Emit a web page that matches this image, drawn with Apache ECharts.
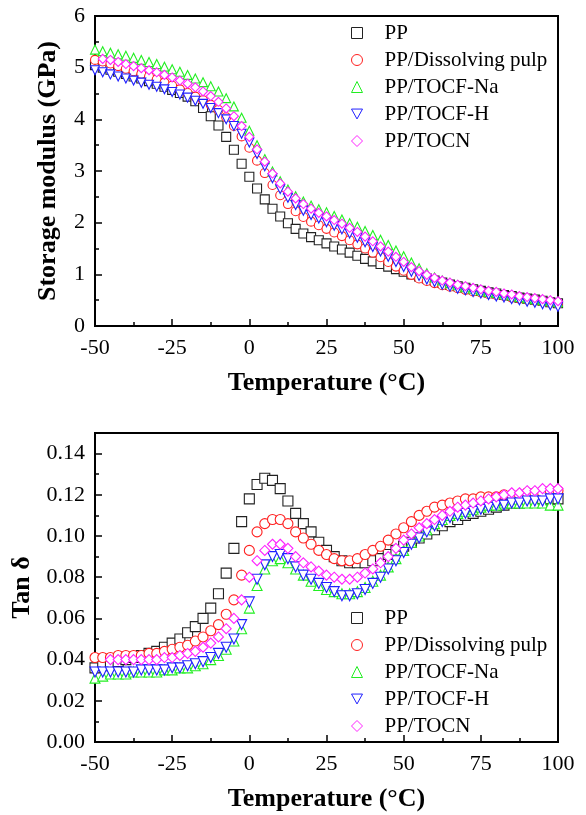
<!DOCTYPE html>
<html>
<head>
<meta charset="utf-8">
<script src="https://cdn.jsdelivr.net/npm/echarts@6/dist/echarts.min.js"></script>
<style>
  html, body { margin: 0; padding: 0; background: #fff; }
  #chart { width: 586px; height: 815px; }
</style>
</head>
<body>
<div id="chart"></div>
<script>
// temperature (°C)
const temps = [
  -50, -47.5, -45, -42.5, -40, -37.5, -35, -32.5, -30, -27.5,
  -25, -22.5, -20, -17.5, -15, -12.5, -10, -7.5, -5, -2.5,
  0, 2.5, 5, 7.5, 10, 12.5, 15, 17.5, 20, 22.5,
  25, 27.5, 30, 32.5, 35, 37.5, 40, 42.5, 45, 47.5,
  50, 52.5, 55, 57.5, 60, 62.5, 65, 67.5, 70, 72.5,
  75, 77.5, 80, 82.5, 85, 87.5, 90, 92.5, 95, 97.5,
  100
];

const names = ['PP', 'PP/Dissolving pulp', 'PP/TOCF-Na', 'PP/TOCF-H', 'PP/TOCN'];
const colors = ['#222222', '#ff2020', '#22ee22', '#2020ff', '#ff22ff'];

// storage modulus (GPa)
const modPP = [
  5.05, 5.00, 4.96, 4.92, 4.88, 4.83, 4.79, 4.74, 4.69, 4.63,
  4.57, 4.51, 4.44, 4.35, 4.22, 4.06, 3.88, 3.66, 3.41, 3.14,
  2.89, 2.66, 2.45, 2.27, 2.12, 1.99, 1.88, 1.79, 1.72, 1.66,
  1.60, 1.54, 1.48, 1.42, 1.36, 1.30, 1.25, 1.20, 1.15, 1.10,
  1.05, 1.00, 0.96, 0.92, 0.88, 0.84, 0.80, 0.77, 0.74, 0.71,
  0.68, 0.65, 0.63, 0.60, 0.58, 0.55, 0.53, 0.51, 0.49, 0.46,
  0.44
];
const modPulp = [
  5.15, 5.12, 5.08, 5.03, 4.98, 4.93, 4.88, 4.83, 4.77, 4.71,
  4.65, 4.58, 4.51, 4.44, 4.37, 4.28, 4.18, 4.04, 3.87, 3.67,
  3.45, 3.20, 2.96, 2.73, 2.53, 2.36, 2.22, 2.11, 2.02, 1.95,
  1.88, 1.81, 1.74, 1.66, 1.58, 1.50, 1.42, 1.33, 1.24, 1.15,
  1.07, 0.99, 0.92, 0.87, 0.83, 0.79, 0.76, 0.73, 0.70, 0.67,
  0.65, 0.62, 0.60, 0.58, 0.55, 0.53, 0.51, 0.49, 0.47, 0.45,
  0.43
];
const modNa = [
  5.35, 5.32, 5.29, 5.26, 5.23, 5.19, 5.15, 5.11, 5.07, 5.02,
  4.97, 4.92, 4.86, 4.79, 4.72, 4.64, 4.54, 4.41, 4.25, 4.03,
  3.78, 3.50, 3.23, 2.99, 2.80, 2.64, 2.51, 2.41, 2.33, 2.26,
  2.20, 2.13, 2.06, 1.99, 1.92, 1.84, 1.76, 1.67, 1.57, 1.46,
  1.35, 1.23, 1.12, 1.02, 0.94, 0.88, 0.83, 0.79, 0.75, 0.72,
  0.69, 0.66, 0.64, 0.61, 0.59, 0.56, 0.54, 0.52, 0.50, 0.48,
  0.46
];
const modH = [
  4.95, 4.91, 4.87, 4.83, 4.79, 4.75, 4.71, 4.67, 4.63, 4.58,
  4.53, 4.48, 4.42, 4.36, 4.30, 4.22, 4.12, 4.00, 3.87, 3.72,
  3.55, 3.33, 3.09, 2.86, 2.65, 2.48, 2.34, 2.23, 2.15, 2.08,
  2.01, 1.94, 1.87, 1.79, 1.71, 1.62, 1.53, 1.44, 1.34, 1.24,
  1.14, 1.05, 0.97, 0.90, 0.85, 0.80, 0.76, 0.72, 0.69, 0.66,
  0.63, 0.60, 0.57, 0.55, 0.52, 0.50, 0.47, 0.45, 0.42, 0.40,
  0.37
];
const modTOCN = [
  null, 5.17, 5.15, 5.11, 5.07, 5.03, 4.99, 4.95, 4.91, 4.86,
  4.81, 4.75, 4.69, 4.62, 4.54, 4.45, 4.34, 4.21, 4.06, 3.87,
  3.66, 3.42, 3.18, 2.95, 2.76, 2.60, 2.47, 2.36, 2.27, 2.19,
  2.12, 2.05, 1.98, 1.90, 1.82, 1.73, 1.64, 1.54, 1.44, 1.34,
  1.24, 1.14, 1.06, 0.99, 0.93, 0.88, 0.84, 0.80, 0.77, 0.74,
  0.71, 0.68, 0.66, 0.63, 0.61, 0.58, 0.56, 0.54, 0.52, 0.50,
  0.48
];

// tan delta
const tanPP = [
  0.036, 0.037, 0.038, 0.039, 0.040, 0.041, 0.042, 0.043, 0.044, 0.046,
  0.048, 0.050, 0.053, 0.056, 0.060, 0.065, 0.072, 0.082, 0.094, 0.107,
  0.118, 0.125, 0.128, 0.127, 0.123, 0.117, 0.111, 0.106, 0.102, 0.097,
  0.093, 0.090, 0.088, 0.087, 0.087, 0.087, 0.088, 0.089, 0.091, 0.093,
  0.095, 0.097, 0.099, 0.101, 0.103, 0.105, 0.107, 0.108, 0.110, 0.111,
  0.112, 0.113, 0.114, 0.115, 0.116, 0.116, 0.117, 0.117, 0.118, 0.118,
  0.118
];
const tanPulp = [
  0.041, 0.041, 0.041, 0.042, 0.042, 0.042, 0.042, 0.043, 0.043, 0.044,
  0.045, 0.046, 0.047, 0.049, 0.051, 0.054, 0.057, 0.062, 0.069, 0.081,
  0.093, 0.102, 0.106, 0.108, 0.108, 0.106, 0.102, 0.099, 0.096, 0.093,
  0.091, 0.089, 0.088, 0.088, 0.089, 0.091, 0.093, 0.095, 0.098, 0.101,
  0.104, 0.107, 0.110, 0.112, 0.114, 0.115, 0.116, 0.117, 0.118, 0.118,
  0.119, 0.119, 0.119, 0.120, 0.120, 0.120, 0.121, 0.121, 0.121, 0.122,
  0.122
];
const tanNa = [
  0.031, 0.032, 0.033, 0.033, 0.033, 0.034, 0.034, 0.034, 0.034, 0.035,
  0.035, 0.036, 0.036, 0.037, 0.038, 0.040, 0.042, 0.045, 0.049, 0.055,
  0.065, 0.076, 0.084, 0.088, 0.089, 0.087, 0.084, 0.081, 0.078, 0.076,
  0.074, 0.073, 0.072, 0.072, 0.073, 0.075, 0.078, 0.081, 0.085, 0.089,
  0.093, 0.097, 0.100, 0.103, 0.106, 0.108, 0.110, 0.111, 0.112, 0.113,
  0.114, 0.115, 0.115, 0.116, 0.116, 0.116, 0.116, 0.116, 0.116, 0.115,
  0.115
];
const tanH = [
  0.034, 0.034, 0.034, 0.034, 0.034, 0.034, 0.035, 0.035, 0.035, 0.035,
  0.036, 0.036, 0.037, 0.038, 0.039, 0.041, 0.043, 0.046, 0.050, 0.057,
  0.068, 0.079, 0.086, 0.090, 0.091, 0.089, 0.085, 0.081, 0.079, 0.077,
  0.075, 0.073, 0.071, 0.071, 0.072, 0.074, 0.077, 0.080, 0.084, 0.088,
  0.092, 0.096, 0.099, 0.102, 0.105, 0.107, 0.109, 0.110, 0.111, 0.112,
  0.113, 0.114, 0.115, 0.115, 0.116, 0.116, 0.117, 0.117, 0.117, 0.118,
  0.118
];
const tanTOCN = [
  null, null, 0.040, 0.040, 0.040, 0.040, 0.040, 0.040, 0.040, 0.041,
  0.041, 0.042, 0.043, 0.044, 0.046, 0.048, 0.051, 0.055, 0.060, 0.069,
  0.080, 0.088, 0.093, 0.096, 0.096, 0.094, 0.090, 0.087, 0.085, 0.083,
  0.081, 0.080, 0.079, 0.079, 0.080, 0.082, 0.084, 0.087, 0.090, 0.094,
  0.098, 0.101, 0.104, 0.106, 0.108, 0.110, 0.112, 0.114, 0.115, 0.116,
  0.117, 0.118, 0.119, 0.120, 0.121, 0.121, 0.122, 0.122, 0.123, 0.123,
  0.123
];

const modData = [modPP, modPulp, modNa, modH, modTOCN];
const tanData = [tanPP, tanPulp, tanNa, tanH, tanTOCN];

const symbols = ['rect', 'circle', 'triangle', 'triangle', 'diamond'];
const rotates = [0, 0, 0, 180, 0];
const legendIcons = ['rect', 'circle', 'triangle', 'path://M0,0L10,0L5,9Z', 'diamond'];

const serif = 'Liberation Serif';

const pairs = (vals) => temps.map((t, i) => [t, vals[i]]).filter((p) => p[1] != null);

const axisCommon = {
  axisLine: { onZero: false, lineStyle: { color: '#000', width: 2 } },
  axisTick: { inside: true, length: 7, lineStyle: { color: '#000', width: 1.5 } },
  minorTick: { show: true, splitNumber: 2, length: 4, lineStyle: { color: '#000', width: 1.5 } },
  splitLine: { show: false },
  axisLabel: { color: '#000', fontFamily: serif, fontSize: 22 },
  nameTextStyle: { color: '#000', fontFamily: serif, fontSize: 26, fontWeight: 'bold' },
};

const makeX = (gridIndex) => ({
  ...axisCommon,
  type: 'value',
  gridIndex,
  min: -50,
  max: 100,
  interval: 25,
  name: 'Temperature (°C)',
  nameLocation: 'middle',
  nameGap: 44,
  axisLabel: { ...axisCommon.axisLabel, margin: 11 },
});

const makeLegend = (top) => ({
  orient: 'vertical',
  left: 351,
  top,
  padding: 0,
  itemWidth: 11,
  itemHeight: 11,
  itemGap: 5,
  textStyle: { fontFamily: serif, fontSize: 21, color: '#000', lineHeight: 22, padding: [0, 0, 0, 17] },
  data: names.map((n, i) => ({
    name: n,
    icon: legendIcons[i],
    itemStyle: { color: '#fff', borderColor: colors[i], borderWidth: 1 },
  })),
});

const makeSeries = (dataSets, gridIdx, size) =>
  dataSets.map((vals, i) => ({
    type: 'scatter',
    name: names[i],
    xAxisIndex: gridIdx,
    yAxisIndex: gridIdx,
    symbol: symbols[i],
    symbolRotate: rotates[i],
    symbolSize: size,
    clip: false,
    itemStyle: { color: '#fff', borderColor: colors[i], borderWidth: 1.1, opacity: 1 },
    emphasis: { disabled: true },
    data: pairs(vals),
  }));

const chart = echarts.init(document.getElementById('chart'));
chart.setOption({
  animation: false,
  backgroundColor: '#fff',
  grid: [
    { left: 95, top: 16, width: 463, height: 310, show: true, borderColor: '#000', borderWidth: 2 },
    { left: 95, top: 433, width: 463, height: 309, show: true, borderColor: '#000', borderWidth: 2 },
  ],
  xAxis: [makeX(0), makeX(1)],
  yAxis: [
    {
      ...axisCommon,
      type: 'value',
      gridIndex: 0,
      min: 0,
      max: 6,
      interval: 1,
      name: 'Storage modulus (GPa)',
      nameLocation: 'middle',
      nameGap: 34,
      axisLabel: { ...axisCommon.axisLabel, margin: 10 },
    },
    {
      ...axisCommon,
      type: 'value',
      gridIndex: 1,
      min: 0,
      max: 0.15,
      interval: 0.02,
      name: 'Tan δ',
      nameLocation: 'middle',
      nameGap: 58,
      axisLabel: {
        ...axisCommon.axisLabel,
        margin: 10,
        showMaxLabel: false,
        formatter: (v) => (v > 0.145 ? '' : v.toFixed(2)),
      },
    },
  ],
  legend: [makeLegend(22), makeLegend(607)],
  series: [...makeSeries(modData, 0, 9), ...makeSeries(tanData, 1, 10)],
});
</script>
</body>
</html>
